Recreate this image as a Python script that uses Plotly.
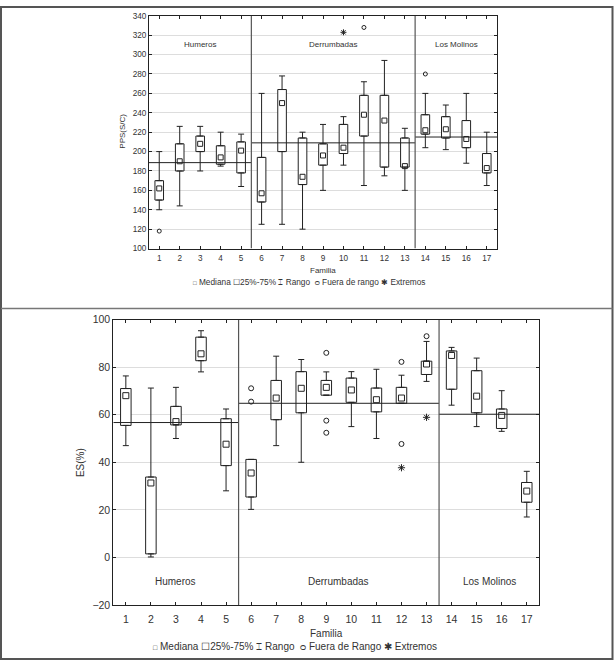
import plotly.graph_objects as go

W, H = 614, 666

# ---------------- data ----------------
familia = list(range(1, 18))
group_names = ["Humeros", "Derrumbadas", "Los Molinos"]
group_lo = [0.5, 5.5, 13.5]
group_hi = [5.5, 13.5, 17.5]
group_mid = [3, 9.5, 15.5]

# PPS(S/C)
pps_min = [140, 144, 180, 185, 164, 125, 125, 120, 160, 186, 165, 175, 160, 204, 202, 188, 165]
pps_q1 = [150, 180, 200, 187, 178, 148, 200, 166, 186, 198, 216, 184, 184, 218, 214, 204, 178]
pps_med = [162, 190, 208, 194, 201, 157, 250, 174, 196, 204, 238, 232, 185, 222, 223, 213, 183]
pps_q3 = [170, 208, 216, 206, 210, 194, 264, 214, 208, 228, 258, 258, 214, 238, 236, 232, 198]
pps_max = [200, 226, 226, 220, 218, 260, 278, 220, 228, 236, 272, 294, 224, 260, 248, 260, 220]
pps_out_x = [1, 11, 14]
pps_out_y = [118, 328, 280]
pps_ext_x = [10]
pps_ext_y = [323]
pps_group_mean = [188.6, 209, 215]

# ES(%)
es_min = [47, 0.2, 50, 78, 28, 20.2, 47, 40, 68.2, 55, 50, 64.8, 74, 64, 55, 53, 17]
es_q1 = [55.5, 1.5, 55.7, 82.7, 38.6, 25.4, 57.9, 60.8, 68.2, 65.2, 61.2, 64.8, 76.9, 70.7, 60.8, 54.2, 23.2]
es_med = [68, 31.3, 57.1, 85.6, 47.6, 35.5, 67, 71.1, 71.5, 70.4, 66.3, 67, 81.3, 84.9, 67.8, 59.7, 27.9]
es_q3 = [71, 33.8, 63.5, 92.6, 58.3, 41.2, 74.4, 78.1, 74.4, 75.4, 71.2, 71.5, 82.5, 86.8, 78.5, 62.4, 31.5]
es_max = [76.3, 71.2, 71.5, 95.3, 62.4, 41.2, 84.6, 83.2, 78, 78.1, 79.1, 76.6, 90.8, 88.3, 83.8, 70.1, 36.2]
es_out_x = [6, 6, 9, 9, 9, 12, 12, 13]
es_out_y = [71.1, 65.5, 86, 57.5, 52.4, 82.2, 47.7, 93]
es_ext_x = [12, 13]
es_ext_y = [37.7, 58.9]
es_group_mean = [56.7, 64.8, 60.2]

pps_range = [100, 340]
es_range = [-20, 100]

# ---------------- style ----------------
FONT = "Liberation Sans, Arial, sans-serif"
INK = "#222222"
TXT = "#333333"


def px_x(p):
    return p / W


def px_y(p):
    return 1 - p / H


fig = go.Figure()


def add_panel(xa, ya, mn, q1, med, q3, mx, ox, oy, ex, ey, gmean, yr, msz, osz, esz, cap):
    xr = "x" if xa == 1 else "x2"
    yref = "y" if ya == 1 else "y2"
    # boxes 25%-75%
    fig.add_trace(go.Bar(
        x=familia, base=q1, y=[b - a for a, b in zip(q1, q3)], width=0.42,
        marker=dict(color="white", line=dict(color=INK, width=1)),
        xaxis=xr, yaxis=yref, showlegend=False, hoverinfo="skip"))
    # whiskers (upper / lower)
    fig.add_trace(go.Scatter(
        x=familia, y=q3, mode="markers", marker=dict(size=1, color="rgba(0,0,0,0)"),
        error_y=dict(type="data", symmetric=False, array=[b - a for a, b in zip(q3, mx)],
                     arrayminus=[0] * len(q3), color=INK, thickness=1, width=cap),
        xaxis=xr, yaxis=yref, showlegend=False, hoverinfo="skip"))
    fig.add_trace(go.Scatter(
        x=familia, y=q1, mode="markers", marker=dict(size=1, color="rgba(0,0,0,0)"),
        error_y=dict(type="data", symmetric=False, array=[0] * len(q1),
                     arrayminus=[a - b for a, b in zip(q1, mn)], color=INK, thickness=1, width=cap),
        xaxis=xr, yaxis=yref, showlegend=False, hoverinfo="skip"))
    # group mean lines
    for lo, hi, m in zip(group_lo, group_hi, gmean):
        fig.add_trace(go.Scatter(x=[lo, hi], y=[m, m], mode="lines",
                                 line=dict(color=INK, width=1),
                                 xaxis=xr, yaxis=yref, showlegend=False, hoverinfo="skip"))
    # separators
    for b in group_hi[:-1]:
        fig.add_trace(go.Scatter(x=[b, b], y=yr, mode="lines",
                                 line=dict(color="#555555", width=1.2),
                                 xaxis=xr, yaxis=yref, showlegend=False, hoverinfo="skip"))
    # medians
    fig.add_trace(go.Scatter(x=familia, y=med, mode="markers",
                             marker=dict(symbol="square-open", size=msz, color=INK, line=dict(width=1)),
                             xaxis=xr, yaxis=yref, showlegend=False))
    # outliers
    fig.add_trace(go.Scatter(x=ox, y=oy, mode="markers",
                             marker=dict(symbol="circle-open", size=osz, color=INK, line=dict(width=1)),
                             xaxis=xr, yaxis=yref, showlegend=False))
    # extremes
    fig.add_trace(go.Scatter(x=ex, y=ey, mode="markers",
                             marker=dict(symbol="asterisk-open", size=esz, color=INK, line=dict(width=1)),
                             xaxis=xr, yaxis=yref, showlegend=False))


add_panel(1, 1, pps_min, pps_q1, pps_med, pps_q3, pps_max, pps_out_x, pps_out_y,
          pps_ext_x, pps_ext_y, pps_group_mean, pps_range, 5, 4, 5, 3)
add_panel(2, 2, es_min, es_q1, es_med, es_q3, es_max, es_out_x, es_out_y,
          es_ext_x, es_ext_y, es_group_mean, es_range, 6, 5, 6, 3)


def axis_common(size):
    return dict(showline=True, linecolor=INK, linewidth=1, mirror="ticks",
                ticks="inside", ticklen=3, tickcolor=INK, zeroline=False,
                tickfont=dict(size=size, color=TXT, family=FONT), fixedrange=True)


fig.update_layout(
    width=W, height=H, margin=dict(l=0, r=0, t=0, b=0),
    paper_bgcolor="white", plot_bgcolor="white", showlegend=False,
    barmode="overlay",
    xaxis=dict(domain=[px_x(149), px_x(497)], anchor="y", range=[0.5, 17.5],
               tickvals=familia, showgrid=False, ticklabelstandoff=2, **axis_common(8.2)),
    yaxis=dict(domain=[px_y(247), px_y(10)], anchor="x", range=pps_range, dtick=20,
               showgrid=True, gridcolor="#dddddd", gridwidth=1, **axis_common(8.2)),
    xaxis2=dict(domain=[px_x(113.3), px_x(539.3)], anchor="y2", range=[0.5, 17.5],
                tickvals=familia, showgrid=False, ticklabelstandoff=4, **axis_common(10.5)),
    yaxis2=dict(domain=[px_y(610), px_y(319.3)], anchor="x2", range=es_range, dtick=20,
                showgrid=True, gridcolor="#dddddd", gridwidth=1, **axis_common(10.5)),
)


def txt(x, y, text, size, angle=0, xref="paper", yref="paper"):
    return dict(x=x, y=y, xref=xref, yref=yref, text=text, showarrow=False, textangle=angle,
                xanchor="center", yanchor="middle",
                font=dict(size=size, color=TXT, family=FONT))


ann = []
# group labels
for name, mid in zip(group_names, group_mid):
    ann.append(txt(mid, 310, name, 8, xref="x", yref="y"))
    ann.append(txt(mid, -10, name, 10, xref="x2", yref="y2"))
# axis titles
ann += [
    txt(px_x(323), px_y(269.5), "Familia", 8),
    txt(px_x(123), px_y(128), "PPS(S/C)", 8, angle=-90),
    txt(px_x(326), px_y(639), "Familia", 10),
    txt(px_x(80.5), px_y(465), "ES(%)", 10, angle=-90),
]
# legends
ann += [
    txt(px_x(308.7), px_y(281.5),
        "<span style='font-size:6px'>□</span> Mediana ☐25%-75% ⌶ Rango  ᴑ Fuera de rango ✱ Extremos", 8.3),
    txt(px_x(295), px_y(652.5),
        "<span style='font-size:7px'>□</span> Mediana ☐25%-75% ⌶ Rango  ᴑ Fuera de Rango ✱ Extremos", 10),
]
fig.update_layout(annotations=ann)

# frame
fig.update_layout(shapes=[
    dict(type="rect", xref="paper", yref="paper", x0=px_x(1), x1=px_x(612.5),
         y0=px_y(665), y1=px_y(1), line=dict(color="#555555", width=2)),
    dict(type="line", xref="paper", yref="paper", x0=px_x(1), x1=px_x(612.5),
         y0=px_y(308), y1=px_y(308), line=dict(color="#777777", width=1.5)),
])

fig.write_html("out.html", config={"displayModeBar": False},
               post_script="document.body.style.margin='0';document.body.style.overflow='hidden';")
